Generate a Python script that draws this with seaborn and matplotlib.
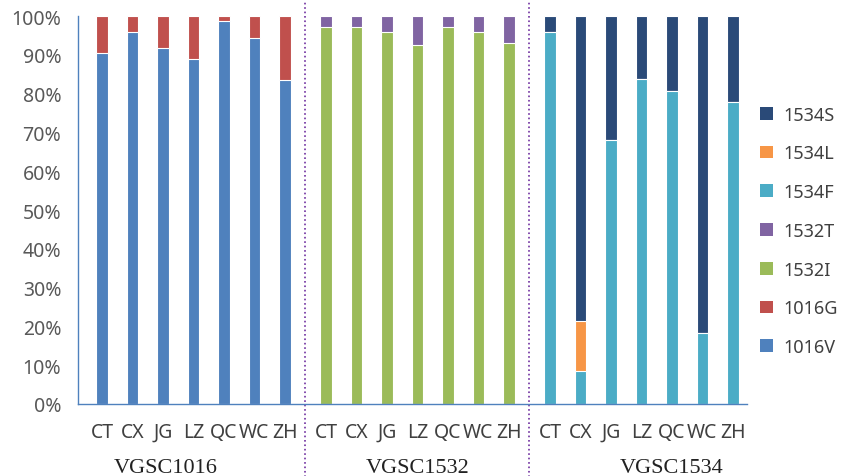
import numpy as np
import pandas as pd
import matplotlib
matplotlib.use('Agg')
import matplotlib.pyplot as plt
import matplotlib.transforms as mtransforms
from matplotlib.patches import Patch
import seaborn as sns

sns.set_style('white')
plt.rcParams['font.family'] = ['Noto Sans', 'DejaVu Sans']

# sampling sites (same order in every gene group)
sites = ['CT', 'CX', 'JG', 'LZ', 'QC', 'WC', 'ZH']
groups = ['VGSC1016', 'VGSC1532', 'VGSC1534']

# allele frequencies (%)
v1016V = [90.5, 95.8, 91.8, 88.9, 98.8, 94.5, 83.5]
v1016G = [9.5, 4.2, 8.2, 11.1, 1.2, 5.5, 16.5]
v1532I = [97.2, 97.1, 96.0, 92.5, 97.2, 96.0, 93.1]
v1532T = [2.8, 2.9, 4.0, 7.5, 2.8, 4.0, 6.9]
v1534F = [96.0, 8.6, 68.0, 83.8, 80.6, 18.3, 77.8]
v1534L = [0.0, 12.9, 0.0, 0.0, 0.0, 0.0, 0.0]
v1534S = [4.0, 78.5, 32.0, 16.2, 19.4, 81.7, 22.2]

COLORS = {
    '1016V': '#4F81BD', '1016G': '#C0504D',
    '1532I': '#9BBB59', '1532T': '#8064A2',
    '1534F': '#4BACC6', '1534L': '#F79646', '1534S': '#2A4A78',
}

# bottom -> top layers for each group
layers = [
    [('1016V', v1016V), ('1016G', v1016G)],
    [('1532I', v1532I), ('1532T', v1532T)],
    [('1534F', v1534F), ('1534L', v1534L), ('1534S', v1534S)],
]

GROUP_STEP = 7.35
fig = plt.figure(figsize=(8.42, 4.77), dpi=100)
ax = fig.add_axes([0.0926, 0.151, 0.794, 0.813])

tick_pos, tick_lab = [], []
for g, stack in enumerate(layers):
    pos = g * GROUP_STEP + np.arange(len(sites))
    tick_pos += list(pos)
    tick_lab += sites
    df = pd.DataFrame({'pos': pos})
    cum = np.zeros(len(sites))
    cums = []
    for name, vals in stack:
        cum = cum + np.array(vals)
        cums.append((name, cum.copy()))
    # draw the tallest cumulative bar first, lower segments on top
    for name, c in reversed(cums):
        df['val'] = c
        sns.barplot(data=df, x='pos', y='val', native_scale=True, width=0.38,
                    color=COLORS[name], saturation=1, errorbar=None,
                    edgecolor='white', linewidth=0.8, ax=ax)

ax.set_ylim(0, 100)
ax.set_xlim(-0.79, 21.15)
ax.set_yticks(np.arange(0, 101, 10))
ax.set_yticklabels([f'{v}%' for v in range(0, 101, 10)], fontsize=14, color='#595959')
ax.set_xticks(tick_pos)
ax.set_xticklabels(tick_lab, fontsize=14, color='#404040')
ax.tick_params(axis='both', length=0)
ax.tick_params(axis='x', pad=13)
ax.tick_params(axis='y', pad=12)
ax.set_xlabel('')
ax.set_ylabel('')
for s in ['top', 'right']:
    ax.spines[s].set_visible(False)
for s in ['left', 'bottom']:
    ax.spines[s].set_color('#4F81BD')
    ax.spines[s].set_linewidth(1.0)

# dotted group separators
trans = mtransforms.blended_transform_factory(ax.transData, ax.transAxes)
for xd in [(6 + GROUP_STEP) / 2, (6 + GROUP_STEP + 2 * GROUP_STEP) / 2]:
    ax.plot([xd, xd], [-0.19, 1.036], transform=trans, clip_on=False,
            color='#7030A0', linestyle=':', linewidth=1.2)

# group labels
for xg, label in zip([2.1, 10.35, 18.7], groups):
    ax.text(xg, -0.165, label, transform=trans, ha='center', va='center',
            fontsize=16, family='Liberation Serif', color='#222222')

handles = [Patch(facecolor=COLORS[k], edgecolor='none', label=k)
           for k in ['1534S', '1534L', '1534F', '1532T', '1532I', '1016G', '1016V']]
fig.legend(handles=handles, loc='center left', bbox_to_anchor=(0.903, 0.514),
           frameon=False, fontsize=13, handlelength=0.72, handleheight=0.72,
           labelspacing=1.15, handletextpad=0.55, borderaxespad=0, borderpad=0,
           labelcolor='#404040')

fig.savefig('out.png', dpi=100)
